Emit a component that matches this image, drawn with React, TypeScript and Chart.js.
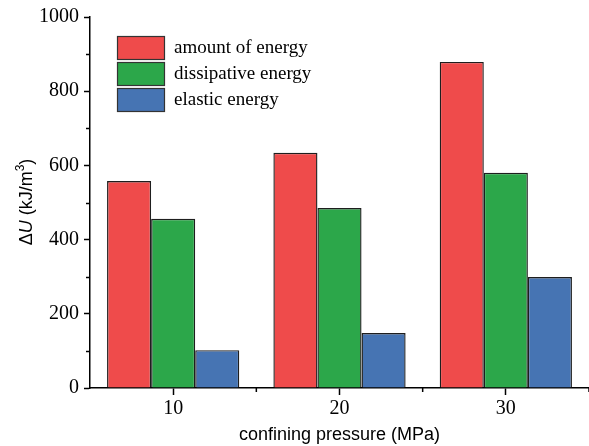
import React, { useEffect, useRef } from "react";
import { Chart, registerables } from "chart.js";

Chart.register(...registerables);

const categories = ["10", "20", "30"];
const seriesNames = ["amount of energy", "dissipative energy", "elastic energy"];
const amountOfEnergy = [558, 634, 879];
const dissipativeEnergy = [456, 485, 580];
const elasticEnergy = [102, 148, 299];
const seriesColors = ["#EF4B4B", "#2CA74A", "#4674B3"];
const yTicks = [0, 200, 400, 600, 800, 1000];
const yMinorTicks = [100, 300, 500, 700, 900];

const serif = "'Liberation Serif', 'Times New Roman', serif";
const sans = "'Liberation Sans', Arial, sans-serif";

// Minor ticks, in-plot legend and the y-axis title with italic U and superscript 3
const decorations = {
  id: "decorations",
  afterDraw(chart: any) {
    const ctx = chart.ctx as CanvasRenderingContext2D;
    const area = chart.chartArea;
    const x = chart.scales.x;
    const y = chart.scales.y;
    ctx.save();
    ctx.strokeStyle = "#000";
    ctx.lineWidth = 1.5;
    // y minor ticks
    yMinorTicks.forEach((v) => {
      const py = Math.round(y.getPixelForValue(v)) + 0.5;
      ctx.beginPath();
      ctx.moveTo(area.left - 4, py);
      ctx.lineTo(area.left, py);
      ctx.stroke();
    });
    // x minor ticks between categories
    for (let i = 0; i < categories.length; i++) {
      const px = (x.getPixelForValue(i) + x.getPixelForValue(i + 1)) / 2;
      ctx.beginPath();
      ctx.moveTo(px, area.bottom);
      ctx.lineTo(px, area.bottom + 4);
      ctx.stroke();
    }
    // legend
    const boxLeft = 117;
    const boxW = 47;
    const boxH = 23;
    const tops = [36, 62, 88];
    ctx.font = `19px ${serif}`;
    ctx.textBaseline = "middle";
    ctx.textAlign = "left";
    seriesNames.forEach((name, i) => {
      ctx.fillStyle = seriesColors[i];
      ctx.fillRect(boxLeft, tops[i], boxW, boxH);
      ctx.strokeStyle = "#333";
      ctx.lineWidth = 1.2;
      ctx.strokeRect(boxLeft + 0.5, tops[i] + 0.5, boxW, boxH);
      ctx.fillStyle = "#000";
      ctx.fillText(name, 174, tops[i] + boxH / 2 + 1);
    });
    // y-axis title
    const parts = [
      { t: "\u0394", f: `18px ${sans}`, dy: 0 },
      { t: "U", f: `italic 18px ${sans}`, dy: 0 },
      { t: " (kJ/m", f: `18px ${sans}`, dy: 0 },
      { t: "3", f: `12px ${sans}`, dy: -8 },
      { t: ")", f: `18px ${sans}`, dy: 0 },
    ];
    let total = 0;
    parts.forEach((p) => {
      ctx.font = p.f;
      total += ctx.measureText(p.t).width;
    });
    ctx.translate(32, 202);
    ctx.rotate(-Math.PI / 2);
    ctx.textBaseline = "alphabetic";
    ctx.fillStyle = "#000";
    let cx = -total / 2;
    parts.forEach((p) => {
      ctx.font = p.f;
      ctx.fillText(p.t, cx, p.dy);
      cx += ctx.measureText(p.t).width;
    });
    ctx.restore();
  },
};

export default function App() {
  const canvasRef = useRef<HTMLCanvasElement | null>(null);

  useEffect(() => {
    if (!canvasRef.current) return;
    const data = [amountOfEnergy, dissipativeEnergy, elasticEnergy];
    const chart = new Chart(canvasRef.current, {
      type: "bar",
      data: {
        labels: categories,
        datasets: seriesNames.map((name, i) => ({
          label: name,
          data: data[i],
          backgroundColor: seriesColors[i],
          borderColor: "#1e1e1e",
          borderWidth: 1.4,
          categoryPercentage: 0.795,
          barPercentage: 1,
        })),
      },
      options: {
        animation: false,
        responsive: false,
        maintainAspectRatio: false,
        layout: { padding: { top: 17, right: 0, left: 0, bottom: 0 } },
        plugins: {
          legend: { display: false },
          tooltip: { enabled: false },
          title: { display: false },
        },
        scales: {
          x: {
            type: "category",
            offset: true,
            grid: {
              offset: false,
              drawOnChartArea: false,
              drawTicks: true,
              tickLength: 7,
              tickWidth: 1.5,
              tickColor: "#000",
            },
            border: { display: true, color: "#000", width: 1.5 },
            ticks: {
              color: "#000",
              font: { family: serif, size: 20 },
              padding: 2,
              maxRotation: 0,
            },
            title: {
              display: true,
              text: "confining pressure (MPa)",
              color: "#000",
              font: { family: sans, size: 18 },
              padding: { top: 0, bottom: 0 },
            },
            afterFit(scale: any) {
              scale.height = 58;
            },
          },
          y: {
            min: 0,
            max: 1000,
            afterBuildTicks(scale: any) {
              scale.ticks = yTicks.map((v) => ({ value: v }));
            },
            grid: {
              drawOnChartArea: false,
              drawTicks: true,
              tickLength: 6,
              tickWidth: 1.5,
              tickColor: "#000",
            },
            border: { display: true, color: "#000", width: 1.5 },
            ticks: {
              color: "#000",
              font: { family: serif, size: 20 },
              padding: 5,
              callback: (value: any) => String(value),
            },
            afterFit(scale: any) {
              scale.width = 90;
            },
          },
        },
      },
      plugins: [decorations],
    });
    return () => chart.destroy();
  }, []);

  return (
    <div style={{ position: "fixed", left: 0, top: 0, width: 589, height: 446, background: "#fff" }}>
      <canvas ref={canvasRef} width={589} height={446} style={{ width: 589, height: 446 }} />
    </div>
  );
}
